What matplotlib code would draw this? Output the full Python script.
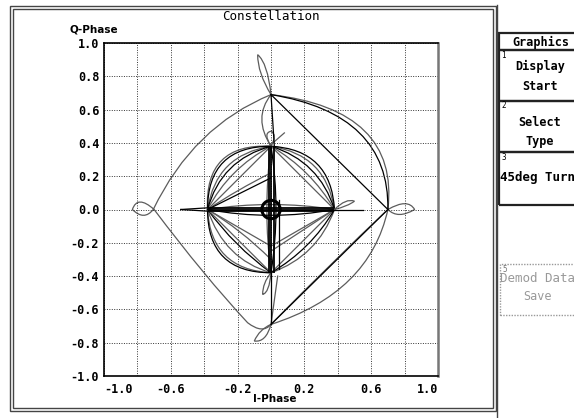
import matplotlib
matplotlib.use("Agg")
import matplotlib.pyplot as plt
from matplotlib.path import Path
from matplotlib.patches import PathPatch, Rectangle, Circle
from matplotlib.lines import Line2D

W, H = 574, 418

# axis ticks and labels
TICKS = [-1.0, -0.8, -0.6, -0.4, -0.2, 0.0, 0.2, 0.4, 0.6, 0.8, 1.0]
X_LABELS = ["-1.0", "", "-0.6", "", "-0.2", "", "0.2", "", "0.6", "", "1.0"]
Y_LABELS = ["-1.0", "-0.8", "-0.6", "-0.4", "-0.2", "0.0",
            "0.2", "0.4", "0.6", "0.8", "1.0"]

# trajectory pieces (I, Q), quadratic bezier vertex lists: start, ctrl, end, ctrl, end ...
CURVES_GRAY = [
    [(0, 0.69), (-0.465, 0.50), (-0.705, 0.0), (-0.76, -0.07), (-0.83, 0.0),
     (-0.80, 0.09), (-0.70, 0.0), (-0.40, -0.40), (-0.14, -0.68),
     (-0.05, -0.75), (0, -0.69)],
    [(0, 0.69), (0.77, 0.60), (0.70, 0.0), (0.76, -0.06), (0.86, 0.0),
     (0.82, 0.07), (0.70, 0.0), (0.59, -0.50), (0, -0.69)],
    [(0, 0.69), (-0.02, 0.88), (-0.08, 0.93), (-0.08, 0.82), (0, 0.69)],
    [(0, 0.69), (-0.11, 0.55), (0, 0.38)],
    [(0, -0.69), (-0.03, -0.80), (-0.10, -0.79), (-0.07, -0.72), (0, -0.69)],
    [(0.70, 0.0), (0.38, -0.30), (0, -0.69)],
    [(0, -0.38), (-0.01, -0.50), (-0.05, -0.51), (-0.05, -0.44), (0, -0.38)],
    [(0.38, 0.0), (0.45, 0.07), (0.50, 0.05), (0.46, 0.02), (0.38, 0.0)],
    [(0, 0.38), (-0.05, 0.46), (0.0, 0.47), (0.04, 0.45), (0, 0.38)],
    [(-0.38, 0.0), (-0.40, 0.40), (0, 0.38)],
    [(-0.38, 0.0), (-0.33, 0.33), (0, 0.38)],
    [(-0.38, 0.0), (-0.25, 0.25), (0, 0.38)],
    [(0, 0.38), (0.33, 0.33), (0.38, 0.0)],
    [(0, 0.38), (0.24, 0.24), (0.38, 0.0)],
    [(0.38, 0.0), (0.28, -0.28), (0, -0.38)],
    [(0.38, 0.0), (0.19, -0.19), (0, -0.38)],
    [(0, -0.38), (-0.36, -0.36), (-0.38, 0.0)],
    [(0, -0.38), (-0.28, -0.30), (-0.38, 0.0)],
    [(-0.38, 0.0), (0, 0.06), (0.38, 0.0)],
    [(0, 0.38), (-0.05, 0.0), (0, -0.38)],
    [(-0.38, 0.0), (-0.20, 0.12), (0.0, 0.22)],
    [(-0.38, 0.0), (-0.18, -0.12), (0.0, -0.30)],
]
CURVES_BLACK = [
    [(0, 0.69), (0.71, 0.575), (0.70, 0.0)],
    [(-0.38, 0.0), (-0.38, 0.38), (0, 0.38)],
    [(-0.38, 0.0), (-0.30, 0.30), (0, 0.38)],
    [(0, 0.38), (0.36, 0.36), (0.38, 0.0)],
    [(0, 0.38), (0.29, 0.29), (0.38, 0.0)],
    [(0.38, 0.0), (0.24, -0.24), (0, -0.38)],
    [(0, -0.38), (-0.38, -0.38), (-0.38, 0.0)],
    [(0, -0.38), (-0.22, -0.22), (-0.38, 0.0)],
    [(-0.38, 0.0), (0, -0.07), (0.38, 0.0)],
    [(0, 0.38), (0.06, 0.0), (0, -0.38)],
]
LINES_BLACK = [
    [(0, 0.69), (0.70, 0.0)],
    [(0.70, 0.0), (0, -0.69)],
    [(0, 0.69), (0.02, 0.38)],
    [(0, -0.69), (0.0, -0.38)],
    [(-0.54, 0.0), (-0.38, 0.01)],
    [(-0.54, 0.0), (-0.38, -0.01)],
    [(0.38, 0.0), (0.55, 0.0)],
    [(0.05, 0.06), (0.05, -0.36)],
    [(-0.38, 0.0), (0.0, 0.19)],
]
LINES_GRAY = [
    [(0, -0.69), (0.04, -0.40)],
    [(0, 0.39), (0.08, 0.46)],
    [(0.0, -0.22), (0.38, 0.0)],
    [(0.0, -0.25), (0.38, 0.0)],
    [(-0.38, 0.0), (0.0, -0.22)],
    [(-0.38, 0.0), (0.0, 0.38)],
    [(0.0, 0.38), (0.38, 0.0)],
    [(-0.38, 0.0), (0.0, -0.38)],
]
CROSS_Q = [-0.012, 0.0, 0.012]     # horizontal bundle
CROSS_I = [-0.01, 0.0, 0.015]      # vertical bundle
CROSS_SPAN = (-0.38, 0.38)
RING_R = 0.055

GRAY = "#5c5c5c"


def px(x, y):
    return x / W, 1 - y / H


def bezier(ax, pts, color, lw):
    codes = [Path.MOVETO] + [Path.CURVE3] * (len(pts) - 1)
    ax.add_patch(PathPatch(Path(pts, codes), fill=False, edgecolor=color, lw=lw))


def frame_line(fig, x0, y0, x1, y1, color="#444444", lw=1.0):
    a, b = px(x0, y0)
    c, d = px(x1, y1)
    fig.add_artist(Line2D([a, c], [b, d], color=color, lw=lw))


def box(fig, x0, y0, x1, y1, color="#222222", lw=1.6, ls="-"):
    a, b = px(x0, y1)
    fig.add_artist(Rectangle((a, b), (x1 - x0) / W, (y1 - y0) / H, fill=False,
                             edgecolor=color, lw=lw, ls=ls))


fig = plt.figure(figsize=(W / 100, H / 100), dpi=100)
fig.patch.set_facecolor("white")

l, b = px(104, 376)
ax = fig.add_axes([l, b, 334 / W, 333 / H])
ax.set_xlim(-1, 1)
ax.set_ylim(-1, 1)
ax.set_xticks(TICKS, X_LABELS)
ax.set_yticks(TICKS, Y_LABELS)
ax.tick_params(length=0, labelsize=8.5)
ax.tick_params(axis="x", pad=5)
ax.tick_params(axis="y", pad=3.5)
for lab in ax.get_xticklabels() + ax.get_yticklabels():
    lab.set_family("DejaVu Sans Mono")
    lab.set_fontweight("bold")
xl = ax.get_xticklabels()
xl[0].set_ha("left")
xl[-1].set_ha("right")
ax.grid(True, color="#333333", lw=0.7, linestyle=(0, (1, 1.5)))
for s in ax.spines.values():
    s.set_color("black")
    s.set_linewidth(1.2)
ax.spines["right"].set_color("#777777")
ax.spines["right"].set_linewidth(1.8)

for pts in CURVES_GRAY:
    bezier(ax, pts, GRAY, 0.9)
for pts in CURVES_BLACK:
    bezier(ax, pts, "black", 0.9)
for pts in LINES_GRAY:
    ax.plot([p[0] for p in pts], [p[1] for p in pts], color=GRAY, lw=0.9)
for pts in LINES_BLACK:
    ax.plot([p[0] for p in pts], [p[1] for p in pts], color="black", lw=0.9)
ax.hlines(CROSS_Q, CROSS_SPAN[0], CROSS_SPAN[1], color="black", lw=1.3)
ax.vlines(CROSS_I, CROSS_SPAN[0], CROSS_SPAN[1], color="black", lw=1.3)
ax.add_patch(Circle((0, 0), RING_R, fill=False, edgecolor="black", lw=2.2))

# texts around the plot
fig.text(*px(271, 17), "Constellation", ha="center", va="center",
         family="DejaVu Sans Mono", fontsize=9)
fig.text(*px(70, 30), "Q-Phase", ha="left", va="center",
         family="DejaVu Sans", fontweight="bold", fontsize=7.5)
fig.text(*px(275, 399), "I-Phase", ha="center", va="center",
         family="DejaVu Sans", fontweight="bold", fontsize=7.5)

# outer double frame
box(fig, 10, 6, 496, 411, color="#444444", lw=1.0)
box(fig, 13, 9, 493, 408, color="#444444", lw=1.0)
frame_line(fig, 497, 5, 497, 418)

# soft key panel
box(fig, 499, 33, 580, 50)
box(fig, 499, 50, 580, 101)
box(fig, 499, 101, 580, 152)
box(fig, 499, 152, 580, 205)
box(fig, 500, 264, 580, 315, color="#999999", lw=1.0, ls=(0, (1, 1)))
mono = dict(family="DejaVu Sans Mono", fontweight="bold", fontsize=8.5,
            ha="center", va="center")
fig.text(*px(541, 42), "Graphics", **mono)
fig.text(*px(540, 66), "Display", **mono)
fig.text(*px(540, 86), "Start", **mono)
fig.text(*px(540, 123), "Select", **mono)
fig.text(*px(540, 141), "Type", **mono)
fig.text(*px(500, 177), "45deg Turn", family="DejaVu Sans Mono",
         fontweight="bold", fontsize=9, ha="left", va="center")
fig.text(*px(500, 279), "Demod Data", color="#999999", family="DejaVu Sans Mono",
         fontsize=9, ha="left", va="center")
fig.text(*px(538, 296), "Save", color="#999999", family="DejaVu Sans Mono",
         fontsize=8.5, ha="center", va="center")
small = dict(family="DejaVu Sans Mono", fontsize=5.5, ha="left", va="center")
fig.text(*px(501, 55), "1", **small)
fig.text(*px(501, 106), "2", **small)
fig.text(*px(501, 157), "3", **small)
fig.text(*px(502, 269), "5", color="#777777", **small)

fig.savefig("out.png", dpi=100)
